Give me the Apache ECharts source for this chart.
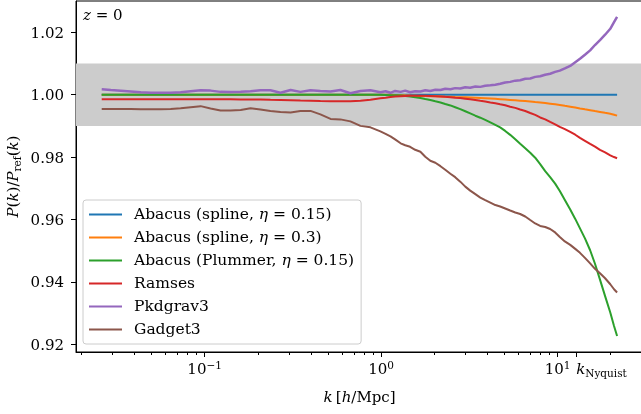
<!DOCTYPE html>
<html>
<head>
<meta charset="utf-8">
<script src="https://cdn.jsdelivr.net/npm/echarts@6/dist/echarts.min.js"></script>
<style>
  html, body { margin: 0; padding: 0; background: #fff; }
  #chart { width: 641px; height: 414px; }
</style>
</head>
<body>
<div id="chart"></div>
<script>
// Wavenumber bins k [h/Mpc], shared by every run
const K = [
  0.0261, 0.0294, 0.0335, 0.0381, 0.0434, 0.0495, 0.0564, 0.0642, 0.0731, 0.0833,
  0.0949, 0.108, 0.123, 0.140, 0.160, 0.182, 0.207, 0.236, 0.269, 0.307,
  0.349, 0.398, 0.453, 0.517, 0.588, 0.670, 0.764, 0.870, 0.991, 1.06,
  1.13, 1.20, 1.29, 1.37, 1.46, 1.56, 1.67, 1.78, 1.90, 2.03,
  2.17, 2.31, 2.47, 2.63, 2.81, 3.00, 3.20, 3.42, 3.65, 3.89,
  4.16, 4.44, 4.73, 5.05, 5.39, 5.76, 6.14, 6.56, 7.00, 7.47,
  7.97, 8.51, 9.08, 9.69, 10.3, 11.0, 11.8, 12.6, 13.4, 14.3,
  15.3, 16.3, 17.4, 18.6, 19.9, 20.9, 21.75
];

// P(k)/P_ref(k) for each code
const abacusSpline015 = [
  1.0, 1.0, 1.0, 1.0, 1.0, 1.0, 1.0, 1.0, 1.0, 1.0,
  1.0, 1.0, 1.0, 1.0, 1.0, 1.0, 1.0, 1.0, 1.0, 1.0,
  1.0, 1.0, 1.0, 1.0, 1.0, 1.0, 1.0, 1.0, 1.0, 1.0,
  1.0, 1.0, 1.0, 1.0, 1.0, 1.0, 1.0, 1.0, 1.0, 1.0,
  1.0, 1.0, 1.0, 1.0, 1.0, 1.0, 1.0, 1.0, 1.0, 1.0,
  1.0, 1.0, 1.0, 1.0, 1.0, 1.0, 1.0, 1.0, 1.0, 1.0,
  1.0, 1.0, 1.0, 1.0, 1.0, 1.0, 1.0, 1.0, 1.0, 1.0,
  1.0, 1.0, 1.0, 1.0, 1.0, 1.0, 1.0
];
const abacusSpline03 = [
  1.0, 1.0, 1.0, 1.0, 1.0, 1.0, 1.0, 1.0, 1.0, 1.0,
  1.0, 1.0, 1.0, 1.0, 1.0, 1.0, 1.0, 1.0, 1.0, 1.0,
  1.0, 1.0, 1.0, 1.0, 1.0, 1.0, 1.0, 1.0, 1.0, 0.99998,
  0.99995, 0.99990, 0.99985, 0.99978, 0.99971, 0.99965, 0.99959, 0.99955, 0.99951, 0.99947,
  0.99943, 0.99937, 0.99932, 0.99926, 0.99920, 0.99914, 0.99908, 0.99902, 0.99895, 0.99886,
  0.99876, 0.99866, 0.99856, 0.99845, 0.99833, 0.99821, 0.99809, 0.99795, 0.99780, 0.99765,
  0.99751, 0.99731, 0.99711, 0.99691, 0.99671, 0.99643, 0.99615, 0.99588, 0.99560, 0.99532,
  0.99504, 0.99476, 0.99448, 0.99418, 0.99388, 0.99357, 0.99330
];
const abacusPlummer015 = [
  1.0, 1.0, 1.0, 1.0, 1.0, 1.0, 1.0, 1.0, 1.0, 1.0,
  1.0, 1.0, 1.0, 1.0, 1.0, 1.0, 1.0, 1.0, 1.0, 1.0,
  1.0, 1.0, 1.0, 1.0, 1.0, 1.0, 1.0, 0.99998, 0.99995, 0.99990,
  0.99984, 0.99978, 0.99971, 0.99959, 0.99943, 0.99920, 0.99895, 0.99863, 0.99831, 0.99789,
  0.99748, 0.99703, 0.99656, 0.99598, 0.99537, 0.99470, 0.99400, 0.99327, 0.99263, 0.99193,
  0.99113, 0.99033, 0.98953, 0.98839, 0.98714, 0.98571, 0.98427, 0.98284, 0.98140, 0.97981,
  0.97774, 0.97550, 0.97362, 0.97152, 0.96915, 0.96628, 0.96322, 0.96022, 0.95719, 0.95400,
  0.95018, 0.94587, 0.94077, 0.93550, 0.93024, 0.92593, 0.92274
];
const ramses = [
  0.99853, 0.99855, 0.99853, 0.99852, 0.99853, 0.99854, 0.99853, 0.99852, 0.99853, 0.99852,
  0.99853, 0.99851, 0.99850, 0.99850, 0.99849, 0.99847, 0.99842, 0.99836, 0.99831, 0.99823,
  0.99815, 0.99807, 0.99799, 0.99793, 0.99789, 0.99789, 0.99805, 0.99840, 0.99885, 0.99905,
  0.99925, 0.99940, 0.99952, 0.99960, 0.99966, 0.99968, 0.99966, 0.99962, 0.99957, 0.99950,
  0.99942, 0.99930, 0.99920, 0.99905, 0.99890, 0.99872, 0.99853, 0.99830, 0.99805, 0.99782,
  0.99751, 0.99727, 0.99694, 0.99660, 0.99612, 0.99577, 0.99526, 0.99478, 0.99414, 0.99352,
  0.99271, 0.99208, 0.99127, 0.99052, 0.98968, 0.98898, 0.98808, 0.98718, 0.98617, 0.98523,
  0.98425, 0.98334, 0.98233, 0.98153, 0.98058, 0.98003, 0.97965
];
const pkdgrav3 = [
  1.00172, 1.00150, 1.00128, 1.00105, 1.00080, 1.00064, 1.00064, 1.00064, 1.00080, 1.00110,
  1.00140, 1.00130, 1.00090, 1.00086, 1.00096, 1.00110, 1.00145, 1.00140, 1.00064, 1.00150,
  1.00090, 1.00140, 1.00120, 1.00100, 1.00150, 1.00045, 1.00120, 1.00140, 1.00080, 1.00110,
  1.00060, 1.00120, 1.00090, 1.00130, 1.00080, 1.00110, 1.00100, 1.00140, 1.00120, 1.00160,
  1.00150, 1.00190, 1.00175, 1.00210, 1.00198, 1.00240, 1.00225, 1.00260, 1.00250, 1.00285,
  1.00300, 1.00320, 1.00350, 1.00390, 1.00410, 1.00450, 1.00460, 1.00510, 1.00520, 1.00570,
  1.00590, 1.00640, 1.00670, 1.00730, 1.00770, 1.00840, 1.00920, 1.01040, 1.01150, 1.01280,
  1.01420, 1.01590, 1.01750, 1.01920, 1.02110, 1.02320, 1.02490
];
const gadget3 = [
  0.99544, 0.99544, 0.99544, 0.99544, 0.99537, 0.99537, 0.99537, 0.99544, 0.99569, 0.99601,
  0.99633, 0.99560, 0.99496, 0.99496, 0.99512, 0.99566, 0.99528, 0.99480, 0.99448, 0.99432,
  0.99474, 0.99480, 0.99368, 0.99225, 0.99209, 0.99145, 0.99001, 0.98954, 0.98826, 0.98747,
  0.98667, 0.98570, 0.98443, 0.98380, 0.98332, 0.98236, 0.98172, 0.98013, 0.97885, 0.97821,
  0.97710, 0.97598, 0.97470, 0.97359, 0.97215, 0.97056, 0.96928, 0.96817, 0.96705, 0.96624,
  0.96544, 0.96465, 0.96418, 0.96354, 0.96290, 0.96226, 0.96179, 0.96099, 0.95987, 0.95876,
  0.95796, 0.95764, 0.95700, 0.95589, 0.95445, 0.95301, 0.95190, 0.95062, 0.94935, 0.94775,
  0.94600, 0.94424, 0.94281, 0.94121, 0.93930, 0.93770, 0.93665
];

const SERIES_NAMES = [
  'Abacus (spline, η = 0.15)',
  'Abacus (spline, η = 0.3)',
  'Abacus (Plummer, η = 0.15)',
  'Ramses',
  'Pkdgrav3',
  'Gadget3'
];
const SERIES_VALUES = [abacusSpline015, abacusSpline03, abacusPlummer015, ramses, pkdgrav3, gadget3];
const COLORS = ['#1f77b4', '#ff7f0e', '#2ca02c', '#d62728', '#9467bd', '#8c564b'];
const WIDTHS = [2, 2, 2, 2, 2.5, 2];

// Tolerance band around unity
const BAND = [0.99, 1.01];

// Axis ranges and tick positions
const X_RANGE = [0.01866, 30.5];
const Y_RANGE = [0.9176, 1.0300];
const Y_TICKS = [0.92, 0.94, 0.96, 0.98, 1.00, 1.02];
const X_MAJOR_TICKS = [0.1, 1, 10];
const X_MINOR_TICKS = [0.02, 0.03, 0.04, 0.05, 0.06, 0.07, 0.08, 0.09,
                       0.2, 0.3, 0.4, 0.5, 0.6, 0.7, 0.8, 0.9,
                       2, 3, 4, 5, 6, 7, 8, 9, 20, 30];
const K_NYQUIST = 12.75;

const FONT = 'DejaVu Serif';
const FS = 15;
const rich = {
  n:   { fontFamily: FONT, fontSize: FS, lineHeight: 19, color: '#000' },
  i:   { fontFamily: FONT, fontSize: FS, lineHeight: 19, color: '#000', fontStyle: 'italic' },
  sup: { fontFamily: FONT, fontSize: 10.5, lineHeight: 8, color: '#000', verticalAlign: 'top' },
  sub: { fontFamily: FONT, fontSize: 10.5, lineHeight: 10, color: '#000', verticalAlign: 'bottom' },
  yt:  { fontFamily: FONT, fontSize: FS, lineHeight: 18, color: '#000', padding: [3, 0, 0, 0] }
};

const log10 = Math.log10;
const LOG_RANGE = [log10(X_RANGE[0]), log10(X_RANGE[1])];

function powerLabel(v) {
  const e = Math.round(v);
  return '{n|10}{sup|' + (e < 0 ? '−' + (-e) : e) + '}';
}

// Linear axis in log10(k), aligned with the log axis, used only for tick decoration
function decoAxis(extra) {
  return Object.assign({
    type: 'value',
    gridIndex: 0,
    position: 'bottom',
    min: LOG_RANGE[0],
    max: LOG_RANGE[1],
    axisLine: { show: false, onZero: false },
    splitLine: { show: false },
    axisLabel: { show: false },
    axisTick: { show: false }
  }, extra);
}

const chart = echarts.init(document.getElementById('chart'), null, { renderer: 'canvas' });

const series = SERIES_NAMES.map((name, s) => {
  const item = {
    name: name,
    type: 'line',
    xAxisIndex: 0,
    yAxisIndex: 0,
    data: K.map((k, i) => [k, SERIES_VALUES[s][i]]),
    showSymbol: false,
    symbol: 'none',
    lineStyle: { width: WIDTHS[s], color: COLORS[s] },
    itemStyle: { color: COLORS[s] },
    emphasis: { disabled: true },
    z: 3 + s
  };
  if (s === 0) {
    item.markArea = {
      silent: true,
      itemStyle: { color: '#cccccc' },
      label: { show: false },
      data: [[{ yAxis: BAND[0] }, { yAxis: BAND[1] }]]
    };
  }
  return item;
});

chart.setOption({
  animation: false,
  backgroundColor: '#ffffff',
  grid: {
    left: 76, right: -2, top: 1, bottom: 62,
    show: true, borderColor: '#000', borderWidth: 1,
    containLabel: false,
    outerBoundsMode: 'none'
  },
  xAxis: [
    {
      type: 'log',
      logBase: 10,
      gridIndex: 0,
      position: 'bottom',
      min: X_RANGE[0],
      max: X_RANGE[1],
      axisLine: { show: true, onZero: false, lineStyle: { color: '#000', width: 1 } },
      axisTick: { show: false },
      axisLabel: { show: false },
      splitLine: { show: false },
      minorTick: { show: false },
      name: '{i|k} {n|[}{i|h}{n|/Mpc]}',
      nameLocation: 'middle',
      nameGap: 37,
      nameMoveOverlap: false,
      nameTextStyle: { rich: rich }
    },
    decoAxis({
      axisTick: {
        show: true, length: 5, lineStyle: { color: '#000', width: 1 },
        customValues: X_MAJOR_TICKS.map(log10)
      },
      axisLabel: {
        show: true, margin: 9,
        customValues: X_MAJOR_TICKS.map(log10),
        formatter: powerLabel,
        rich: rich
      }
    }),
    decoAxis({
      axisTick: {
        show: true, length: 3, lineStyle: { color: '#000', width: 1 },
        customValues: X_MINOR_TICKS.map(log10)
      }
    }),
    decoAxis({
      axisTick: {
        show: true, length: 5, lineStyle: { color: '#000', width: 1 },
        customValues: [log10(K_NYQUIST)]
      },
      axisLabel: {
        show: true, margin: 9, align: 'left',
        customValues: [log10(K_NYQUIST)],
        formatter: () => '{i|k}{sub|Nyquist}',
        rich: rich
      }
    })
  ],
  yAxis: {
    type: 'value',
    min: Y_RANGE[0],
    max: Y_RANGE[1],
    axisLine: { show: true, onZero: false, lineStyle: { color: '#000', width: 1 } },
    axisTick: {
      show: true, length: 5, lineStyle: { color: '#000', width: 1 },
      customValues: Y_TICKS
    },
    axisLabel: {
      show: true, margin: 12,
      customValues: Y_TICKS,
      formatter: v => '{yt|' + v.toFixed(2) + '}',
      rich: rich
    },
    splitLine: { show: false },
    name: '{i|P}{n|(}{i|k}{n|)/}{i|P}{sub|ref}{n|(}{i|k}{n|)}',
    nameLocation: 'middle',
    nameRotate: 90,
    nameGap: 52,
    nameMoveOverlap: false,
    nameTextStyle: { rich: rich }
  },
  legend: {
    data: SERIES_NAMES,
    orient: 'vertical',
    left: 83,
    top: 200,
    padding: [6, 7, 6, 6],
    itemGap: 6,
    itemWidth: 33,
    itemHeight: 2,
    icon: 'rect',
    selectedMode: false,
    backgroundColor: 'rgba(255,255,255,0.8)',
    borderColor: '#cccccc',
    borderWidth: 1,
    borderRadius: 3,
    formatter: function (name) {
      if (name.indexOf('η') >= 0) {
        const parts = name.split('η');
        return '{n|' + parts[0] + '}{i|η}{n|' + parts[1] + '}';
      }
      return '{n|' + name + '}';
    },
    textStyle: { padding: [0, 0, 0, 7], lineHeight: 17, rich: {
      n: { fontFamily: FONT, fontSize: 15.5, lineHeight: 17, color: '#000' },
      i: { fontFamily: FONT, fontSize: 15.5, lineHeight: 17, color: '#000', fontStyle: 'italic' }
    } }
  },
  graphic: [
    {
      type: 'text',
      left: 83,
      top: 9,
      style: { text: '{i|z}{n| = 0}', rich: rich }
    }
  ],
  series: series
});
</script>
</body>
</html>
